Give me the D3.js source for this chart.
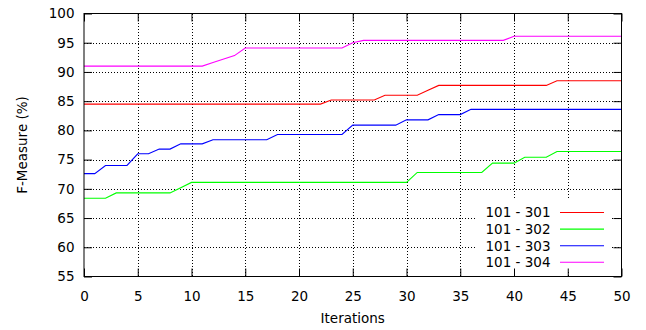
<!DOCTYPE html>
<html><head><meta charset="utf-8">
<script src="https://cdn.jsdelivr.net/npm/d3@7"></script>
<style>body{margin:0;background:#fff}svg text{font-family:"DejaVu Sans",sans-serif;fill:#000}</style>
</head><body><svg id="c" width="646" height="330"></svg>
<script>
const iterations = d3.range(0, 51);
const seriesNames = ["101 - 301", "101 - 302", "101 - 303", "101 - 304"];
const seriesColors = ["#ff0000", "#00ff00", "#0000ff", "#ff00ff"];
const s301 = [84.5,84.5,84.5,84.5,84.5,84.5,84.5,84.5,84.5,84.5,84.5,84.5,84.5,84.5,84.5,84.5,84.5,84.5,84.5,84.5,84.5,84.5,84.5,
  85.2,85.2,85.2,85.2,85.2, 86.0,86.0,86.0,86.0, 86.85,
  87.7,87.7,87.7,87.7,87.7,87.7,87.7,87.7,87.7,87.7,87.7, 88.5,88.5,88.5,88.5,88.5,88.5,88.5];
const s302 = [68.4,68.4,68.4, 69.3,69.3,69.3,69.3,69.3,69.3, 70.2,
  71.1,71.1,71.1,71.1,71.1,71.1,71.1,71.1,71.1,71.1,71.1,71.1,71.1,71.1,71.1,71.1,71.1,71.1,71.1,71.1,71.1,
  72.8,72.8,72.8,72.8,72.8,72.8,72.8, 74.4,74.4,74.4, 75.4,75.4,75.4, 76.4,76.4,76.4,76.4,76.4,76.4,76.4];
const s303 = [72.6,72.6, 74.0,74.0,74.0, 76.0,76.0, 76.8,76.8, 77.7,77.7,77.7,
  78.4,78.4,78.4,78.4,78.4,78.4, 79.3,79.3,79.3,79.3,79.3,79.3,79.3, 80.9,80.9,80.9,80.9,80.9,
  81.8,81.8,81.8, 82.7,82.7,82.7, 83.6,83.6,83.6,83.6,83.6,83.6,83.6,83.6,83.6,83.6,83.6,83.6,83.6,83.6,83.6];
const s304 = [91.0,91.0,91.0,91.0,91.0,91.0,91.0,91.0,91.0,91.0,91.0,91.0, 91.6,92.2,92.8,
  94.1,94.1,94.1,94.1,94.1,94.1,94.1,94.1,94.1,94.1, 95.0,
  95.4,95.4,95.4,95.4,95.4,95.4,95.4,95.4,95.4,95.4,95.4,95.4,95.4,95.4,
  96.1,96.1,96.1,96.1,96.1,96.1,96.1,96.1,96.1,96.1,96.1];
const xTicks = [0,5,10,15,20,25,30,35,40,45,50];
const yTicks = [55,60,65,70,75,80,85,90,95,100];
const xLabel = "Iterations", yLabel = "F-Measure (%)";

const series = [s301, s302, s303, s304];
const L = 84, R = 621.5, T = 13.5, B = 276.5;
const x = d3.scaleLinear().domain([0, 50]).range([L, R]);
const y = d3.scaleLinear().domain([55, 100]).range([B, T]);
const svg = d3.select("#c");
const fs = "13.5px";

// grid
const grid = svg.append("g").attr("stroke", "#000").attr("stroke-width", 1).attr("stroke-dasharray", "1,2").attr("shape-rendering", "crispEdges");
xTicks.filter(t => t > 0 && t < 50).forEach(t => grid.append("line").attr("x1", Math.round(x(t)) + 0.5).attr("x2", Math.round(x(t)) + 0.5).attr("y1", T).attr("y2", B));
yTicks.filter(t => t > 55 && t < 100).forEach(t => grid.append("line").attr("y1", Math.round(y(t)) + 0.5).attr("y2", Math.round(y(t)) + 0.5).attr("x1", L).attr("x2", R));

// lines
const line = d3.line().x((d, i) => x(iterations[i])).y(d => y(d));
series.forEach((s, k) => svg.append("path").datum(s).attr("d", line).attr("fill", "none").attr("stroke", seriesColors[k]).attr("stroke-width", 1.1));

// legend box
const lg = svg.append("g");
lg.append("rect").attr("x", 477).attr("y", 199).attr("width", 135).attr("height", 72).attr("fill", "#fff");
seriesNames.forEach((n, k) => {
  const yy = 212.5 + k * 16.6;
  lg.append("text").attr("x", 550.5).attr("y", yy).attr("dy", "0.36em").attr("text-anchor", "end").style("font-size", fs).text(n);
  lg.append("line").attr("x1", 560).attr("x2", 604).attr("y1", yy).attr("y2", yy).attr("stroke", seriesColors[k]).attr("stroke-width", 1.1);
});

// axes (inward mirrored ticks)
const tl = 8;
const ax = d3.axisBottom(x).tickValues(xTicks).tickSize(tl).tickPadding(12);
const gB = svg.append("g").attr("transform", `translate(0,${B})`).call(ax);
gB.selectAll(".tick line").attr("y2", -tl);
gB.selectAll(".tick text").attr("y", 15).attr("dy", "0.71em");
const gT = svg.append("g").attr("transform", `translate(0,${T})`).call(d3.axisTop(x).tickValues(xTicks).tickSize(tl).tickFormat(""));
gT.selectAll(".tick line").attr("y2", tl);
const gL = svg.append("g").attr("transform", `translate(${L},0)`).call(d3.axisLeft(y).tickValues(yTicks).tickSize(tl).tickPadding(10));
gL.selectAll(".tick line").attr("x2", tl);
gL.selectAll(".tick text").attr("x", -9.5);
const gR = svg.append("g").attr("transform", `translate(${R},0)`).call(d3.axisRight(y).tickValues(yTicks).tickSize(tl).tickFormat(""));
gR.selectAll(".tick line").attr("x2", -tl);
[gB, gT, gL, gR].forEach(g => {
  g.select(".domain").remove();
  g.selectAll("text").style("font-size", fs).attr("font-family", null);
  g.attr("font-family", null).attr("font-size", null);
  g.selectAll(".tick line").attr("stroke", "#000");
});
svg.append("rect").attr("x", L).attr("y", T).attr("width", R - L).attr("height", B - T).attr("fill", "none").attr("stroke", "#000").attr("stroke-width", 1);

svg.append("text").attr("x", (L + R) / 2).attr("y", 323).attr("text-anchor", "middle").style("font-size", fs).text(xLabel);
svg.append("text").attr("transform", `translate(27,${(T + B) / 2}) rotate(-90)`).attr("text-anchor", "middle").style("font-size", fs).text(yLabel);
</script></body></html>
